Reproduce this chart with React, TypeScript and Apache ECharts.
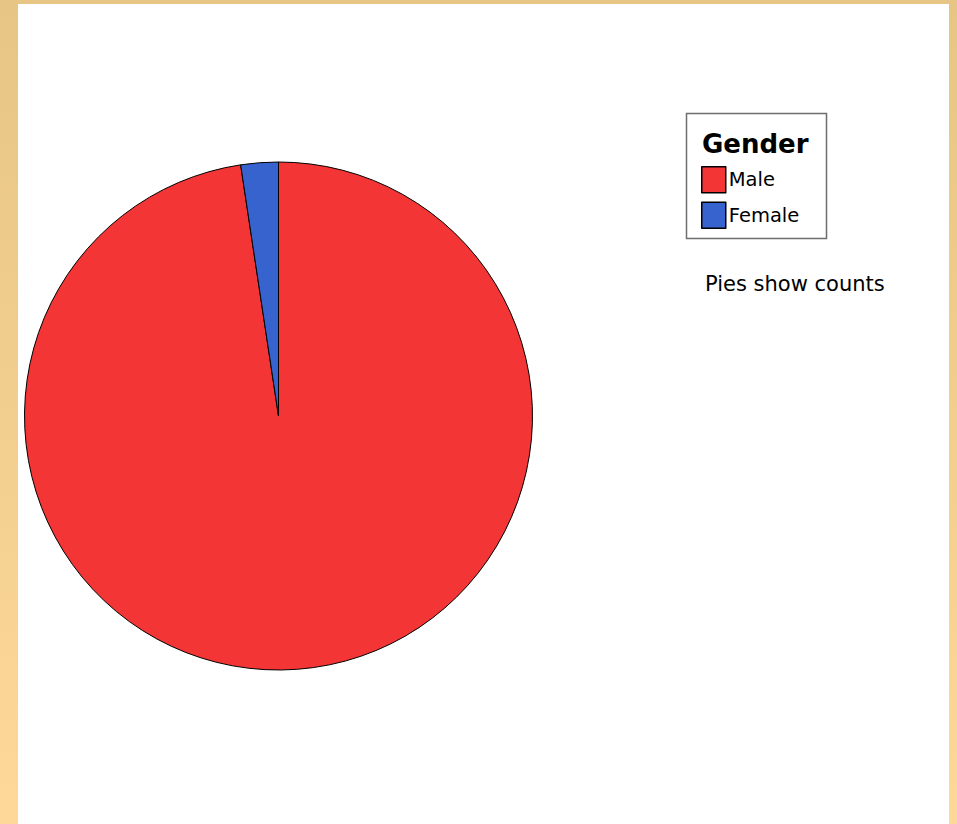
import React, { useEffect, useRef } from "react";
import * as echarts from "echarts";

const categories = ["Male", "Female"];
const counts = [41, 1];
const sliceColors = ["#F43535", "#3763CF"];
const legendTitle = "Gender";
const footnote = "Pies show counts";

export default function App() {
  const ref = useRef<HTMLDivElement>(null);
  useEffect(() => {
    if (!ref.current) return;
    const chart = echarts.init(ref.current, undefined, { renderer: "svg" });
    chart.setOption({
      animation: false,
      backgroundColor: new echarts.graphic.LinearGradient(0, 0, 0, 1, [
        { offset: 0, color: "#E6C585" },
        { offset: 1, color: "#FED898" },
      ]),
      graphic: [
        {
          type: "rect",
          z: -10,
          shape: { x: 18, y: 4, width: 931, height: 830 },
          style: { fill: "#FFFFFF" },
          silent: true,
        },
        {
          type: "rect",
          shape: { x: 686.5, y: 113.5, width: 140, height: 125 },
          style: { fill: "none", stroke: "#6E6E6E", lineWidth: 1.5 },
          silent: true,
        },
        {
          type: "text",
          x: 702,
          y: 144,
          style: {
            text: legendTitle,
            font: "bold 26px 'DejaVu Sans'",
            fill: "#000",
            verticalAlign: "middle",
          },
          silent: true,
        },
        {
          type: "text",
          x: 705,
          y: 284,
          style: {
            text: footnote,
            font: "21px 'DejaVu Sans'",
            fill: "#000",
            verticalAlign: "middle",
          },
          silent: true,
        },
      ],
      legend: {
        orient: "vertical",
        left: 701,
        top: 166,
        padding: 0,
        itemWidth: 24,
        itemHeight: 26,
        itemGap: 8,
        icon: "rect",
        data: categories,
        itemStyle: { borderColor: "#000", borderWidth: 1.5 },
        textStyle: { fontFamily: "DejaVu Sans", fontSize: 19.5, color: "#000", padding: [0, 0, 0, -2] },
        selectedMode: false,
      },
      series: [
        {
          type: "pie",
          center: [278.5, 416],
          radius: 254,
          startAngle: 90,
          clockwise: true,
          label: { show: false },
          labelLine: { show: false },
          emphasis: { disabled: true },
          itemStyle: { borderColor: "#000", borderWidth: 1 },
          data: categories.map((c, i) => ({
            name: c,
            value: counts[i],
            itemStyle: { color: sliceColors[i] },
          })),
        },
      ],
    });
    return () => chart.dispose();
  }, []);
  return (
    <div
      ref={ref}
      style={{ position: "absolute", left: 0, top: 0, width: 957, height: 824 }}
    />
  );
}
